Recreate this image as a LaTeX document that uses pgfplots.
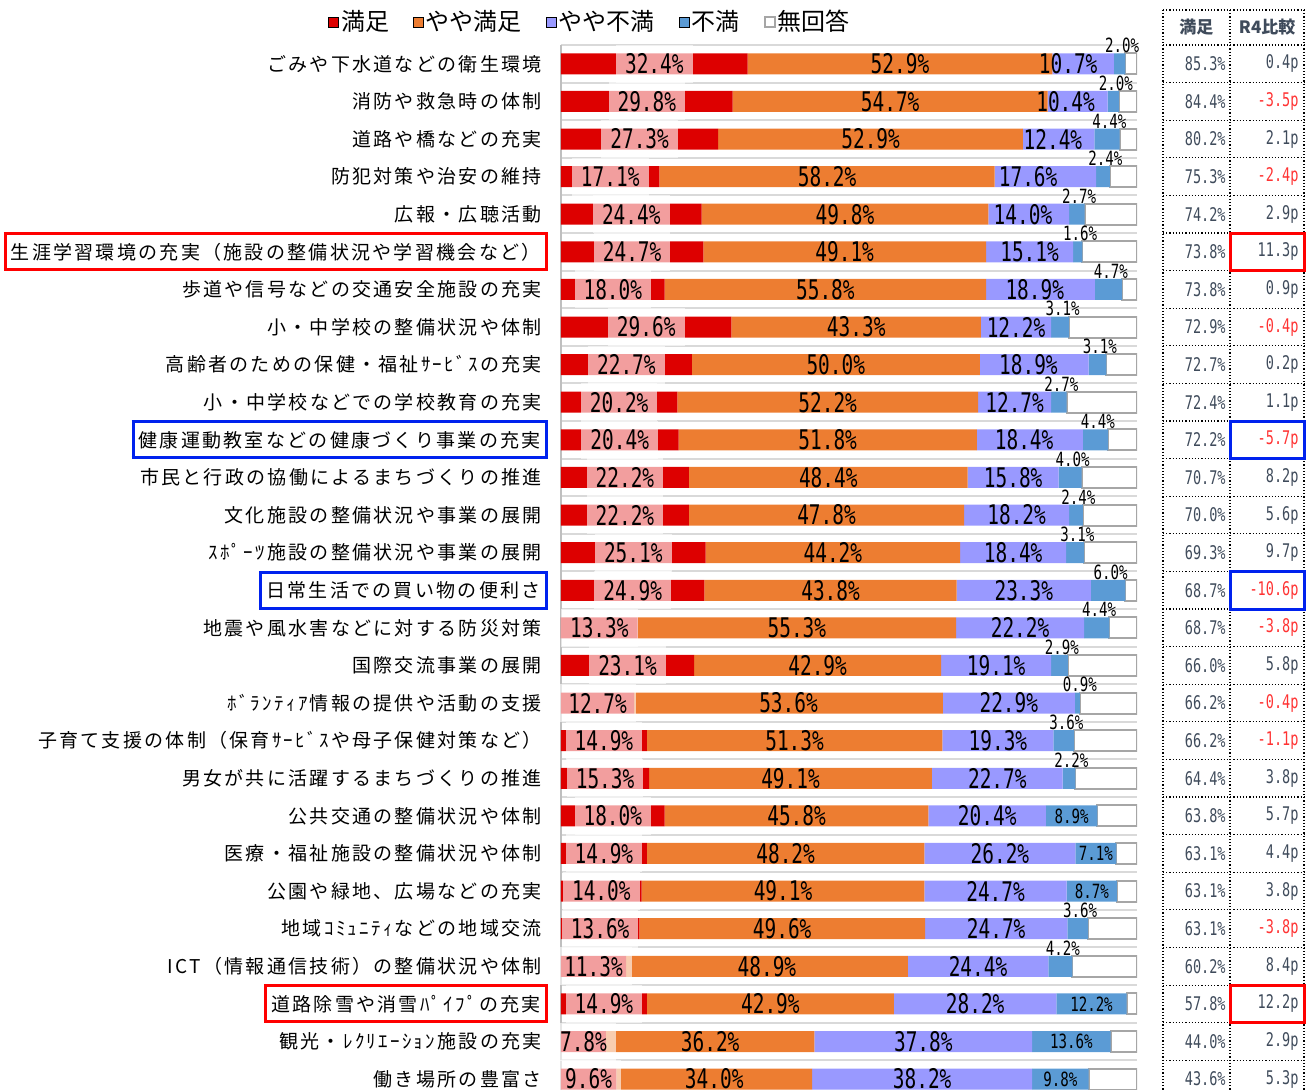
\documentclass[border=0pt]{standalone}
\usepackage{pgfplots}
\pgfplotsset{compat=1.18}
\usepackage{pgfplotstable}
\usepackage{fontspec}
\setmainfont{Noto Sans CJK JP}
\newfontfamily\labfont[LetterSpace=12]{Noto Sans CJK JP}
\newfontfamily\numfont[FakeStretch=0.72]{DejaVu Sans Mono}

\definecolor{cRed}{HTML}{DD0000}
\definecolor{cOra}{HTML}{ED7D31}
\definecolor{cLav}{HTML}{9999FF}
\definecolor{cBlu}{HTML}{5B9BD5}
\definecolor{cGrid}{HTML}{D9D9D9}
\definecolor{cAxis}{HTML}{BFBFBF}
\definecolor{cNone}{HTML}{A6A6A6}
\definecolor{cTab}{HTML}{3F4B5B}
\definecolor{cNeg}{HTML}{FF3333}
\definecolor{hlRed}{HTML}{FF0000}
\definecolor{hlBlue}{HTML}{0022EE}

% framed tick label
\newcommand\hl[2]{{\setlength\fboxrule{1.5pt}\setlength\fboxsep{2pt}%
  \fcolorbox{#1}{white}{\rule[-2.65pt]{0pt}{12.5pt}#2}}\kern-3pt}

% s=満足 ys=やや満足 yf=やや不満 f=不満 n=無回答, tot/r4 = right table
% dx = sideways nudge of the やや不満 label (in %)
\pgfplotstableread{
row s    ys   yf   f    n    tot  r4    neg fin dx
1   32.4 52.9 10.7 2.0  2.0  85.3 0.4   0   0   -2.6
2   29.8 54.7 10.4 2.0  3.1  84.4 -3.5  1   0   -2.1
3   27.3 52.9 12.4 4.4  3.0  80.2 2.1   0   0   -1.0
4   17.1 58.2 17.6 2.4  4.7  75.3 -2.4  1   0   -3.0
5   24.4 49.8 14.0 2.7  9.1  74.2 2.9   0   0   -1.0
6   24.7 49.1 15.1 1.6  9.5  73.8 11.3  0   0   0
7   18.0 55.8 18.9 4.7  2.6  73.8 0.9   0   0   -1.0
8   29.6 43.3 12.2 3.1  11.8 72.9 -0.4  1   0   0
9   22.7 50.0 18.9 3.1  5.3  72.7 0.2   0   0   -1.0
10  20.2 52.2 12.7 2.7  12.2 72.4 1.1   0   0   0
11  20.4 51.8 18.4 4.4  5.0  72.2 -5.7  1   0   -1.0
12  22.2 48.4 15.8 4.0  9.6  70.7 8.2   0   0   0
13  22.2 47.8 18.2 2.4  9.4  70.0 5.6   0   0   0
14  25.1 44.2 18.4 3.1  9.2  69.3 9.7   0   0   0
15  24.9 43.8 23.3 6.0  2.0  68.7 -10.6 1   0   0
16  13.3 55.3 22.2 4.4  4.8  68.7 -3.8  1   0   0
17  23.1 42.9 19.1 2.9  12.0 66.0 5.8   0   0   0
18  12.7 53.6 22.9 0.9  9.9  66.2 -0.4  1   0   0
19  14.9 51.3 19.3 3.6  10.9 66.2 -1.1  1   0   0
20  15.3 49.1 22.7 2.2  10.7 64.4 3.8   0   0   0
21  18.0 45.8 20.4 8.9  6.9  63.8 5.7   0   1   0
22  14.9 48.2 26.2 7.1  3.6  63.1 4.4   0   1   0
23  14.0 49.1 24.7 8.7  3.5  63.1 3.8   0   1   0
24  13.6 49.6 24.7 3.6  8.5  63.1 -3.8  1   0   0
25  11.3 48.9 24.4 4.2  11.2 60.2 8.4   0   0   0
26  14.9 42.9 28.2 12.2 1.8  57.8 12.2  0   1   0
27  7.8  36.2 37.8 13.6 4.6  44.0 2.9   0   1   0
28  9.6  34.0 38.2 9.8  8.4  43.6 5.3   0   1   0
}\data

\pgfplotsset{
  frame/.style={
    at={(280.5pt,-22.5pt)}, anchor=north west,
    scale only axis, width=288pt, height=522.5pt,
    xmin=0, xmax=100, ymin=0.5, ymax=28.29, y dir=reverse},
  lab/.style={draw=none, point meta=explicit symbolic,
    restrict x to domain=-50:200,
    nodes near coords={\pgfplotspointmeta\%},
    nodes near coords style={anchor=center, inner sep=0pt, text=black,
      font=\numfont\fontsize{13.5}{13.5}\selectfont}},
  small/.style={nodes near coords style={font=\numfont\fontsize{9.8}{9.8}\selectfont}},
  tab/.style={nodes near coords style={anchor=east, text=#1,
      font=\numfont\fontsize{9.4}{9.4}\selectfont}},
}

\begin{document}
\begin{tikzpicture}
\begin{axis}[frame,
  xbar stacked, bar width=10.5pt,
  hide x axis, axis y line*=left,
  y axis line style={draw=cAxis, line width=1pt},
  major tick length=0pt, minor tick length=0pt,
  ytick={1,...,28},
  yticklabels={
    ごみや下水道などの衛生環境,
    消防や救急時の体制,
    道路や橋などの充実,
    防犯対策や治安の維持,
    広報・広聴活動,
    {\hl{hlRed}{生涯学習環境の充実（施設の整備状況や学習機会など）}},
    歩道や信号などの交通安全施設の充実,
    小・中学校の整備状況や体制,
    高齢者のための保健・福祉ｻｰﾋﾞｽの充実,
    小・中学校などでの学校教育の充実,
    {\hl{hlBlue}{健康運動教室などの健康づくり事業の充実}},
    市民と行政の協働によるまちづくりの推進,
    文化施設の整備状況や事業の展開,
    ｽﾎﾟｰﾂ施設の整備状況や事業の展開,
    {\hl{hlBlue}{日常生活での買い物の便利さ}},
    地震や風水害などに対する防災対策,
    国際交流事業の展開,
    ﾎﾞﾗﾝﾃｨｱ情報の提供や活動の支援,
    子育て支援の体制（保育ｻｰﾋﾞｽや母子保健対策など）,
    男女が共に活躍するまちづくりの推進,
    公共交通の整備状況や体制,
    医療・福祉施設の整備状況や体制,
    公園や緑地、広場などの充実,
    地域ｺﾐｭﾆﾃｨなどの地域交流,
    ICT（情報通信技術）の整備状況や体制,
    {\hl{hlRed}{道路除雪や消雪ﾊﾟｲﾌﾟの充実}},
    観光・ﾚｸﾘｴｰｼｮﾝ施設の充実,
    働き場所の豊富さ},
  yticklabel style={font=\labfont\fontsize{9.5}{11}\selectfont,
    inner sep=0pt, xshift=-9.5pt, text=black},
  minor ytick={0.5,1.5,...,28.5}, yminorgrids,
  minor grid style={draw=cGrid, line width=1pt},
  legend style={at={(0.0503,1.022)}, anchor=center, draw=none, fill=none,
    legend columns=-1, font=\fontsize{12}{12}\selectfont,
    nodes={inner sep=1pt},
    /tikz/every even column/.append style={column sep=11pt}},
  legend image code/.code={\draw[#1] (0pt,-2.5pt) rectangle (5pt,2.5pt);},
]
\addplot[fill=cRed, draw=none] table[x=s, y=row] {\data};
\addplot[fill=cOra, draw=none] table[x=ys, y=row] {\data};
\addplot[fill=cLav, draw=none] table[x=yf, y=row] {\data};
\addplot[fill=cBlu, draw=none] table[x=f, y=row] {\data};
\addplot[fill=white, draw=cNone, line width=1pt] table[x=n, y=row] {\data};
\legend{満足, やや満足, やや不満, 不満, 無回答}
\end{axis}

\begin{axis}[frame, hide axis, clip=false]
% segment labels
\addplot[lab, nodes near coords style={fill=white, fill opacity=0.62,
    text opacity=1, inner xsep=4.5pt, minimum height=19pt}]
  table[x expr={\thisrow{s}/2}, y=row, meta=s] {\data};
\addplot[lab] table[x expr={\thisrow{s}+\thisrow{ys}/2}, y=row, meta=ys] {\data};
\addplot[lab] table[x expr={\thisrow{s}+\thisrow{ys}+\thisrow{yf}/2+\thisrow{dx}},
  y=row, meta=yf] {\data};
% 不満: inside the bar when wide, above it when narrow
\addplot[lab, small]
  table[x expr={\thisrow{fin}==1 ? \thisrow{s}+\thisrow{ys}+\thisrow{yf}+\thisrow{f}/2 : -999},
        y=row, meta=f] {\data};
\addplot[lab, small, nodes near coords style={anchor=south, xshift=1.2pt}]
  table[x expr={\thisrow{fin}==0 ? \thisrow{s}+\thisrow{ys}+\thisrow{yf}+\thisrow{f}/2 : -999},
        y expr={\thisrow{row}-0.28}, meta=f] {\data};
% right-hand table
\addplot[lab, tab=cTab] table[x expr={115.45}, y=row, meta=tot] {\data};
\addplot[lab, tab=cTab, nodes near coords={\pgfplotspointmeta p}]
  table[x expr={\thisrow{neg}==0 ? 128.1 : -999}, y=row, meta=r4] {\data};
\addplot[lab, tab=cNeg, nodes near coords={\pgfplotspointmeta p}]
  table[x expr={\thisrow{neg}==1 ? 128.1 : -999}, y=row, meta=r4] {\data};

\draw[densely dotted, line width=0.6pt] (axis cs:104.5,-0.43) -- (axis cs:104.5,28.29);
\draw[densely dotted, line width=0.6pt] (axis cs:116.15,-0.43) -- (axis cs:116.15,28.29);
\draw[densely dotted, line width=0.6pt] (axis cs:129,-0.43) -- (axis cs:129,28.29);
\draw[densely dotted, line width=0.6pt] (axis cs:104.5,-0.43) -- (axis cs:129,-0.43);
\pgfplotsinvokeforeach{0,...,27}{
  \draw[densely dotted, line width=0.6pt] (axis cs:104.5,#1.5) -- (axis cs:129,#1.5);
}
\node[font=\bfseries\fontsize{8.5}{8.5}\selectfont, text=cTab] at (axis cs:110.3,0.03) {満足};
\node[font=\bfseries\fontsize{8.5}{8.5}\selectfont, text=cTab] at (axis cs:122.6,0.03) {R4比較};

\draw[hlRed, line width=1.5pt] (axis cs:116.15,5.5) rectangle (axis cs:129,6.5);
\draw[hlBlue, line width=1.5pt] (axis cs:116.15,10.5) rectangle (axis cs:129,11.5);
\draw[hlBlue, line width=1.5pt] (axis cs:116.15,14.5) rectangle (axis cs:129,15.5);
\draw[hlRed, line width=1.5pt] (axis cs:116.15,25.5) rectangle (axis cs:129,26.5);
\end{axis}
\pgfresetboundingbox
\useasboundingbox (0,0) rectangle (656pt,-545pt);
\end{tikzpicture}
\end{document}
